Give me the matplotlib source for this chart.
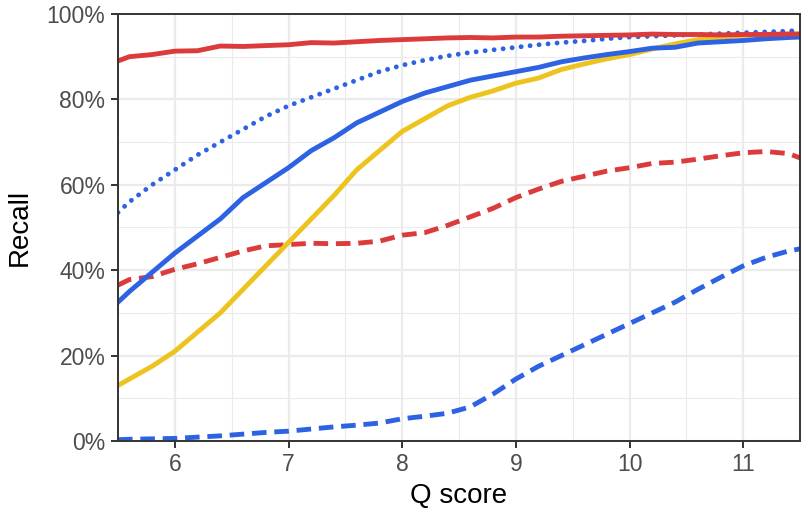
import matplotlib.pyplot as plt
from matplotlib.ticker import FixedLocator, FuncFormatter

plt.rcParams["font.family"] = ["Liberation Sans", "DejaVu Sans"]

q_score = [5.5, 5.6, 5.8, 6.0, 6.2, 6.4, 6.6, 6.8, 7.0, 7.2, 7.4, 7.6, 7.8, 8.0, 8.2,
           8.4, 8.6, 8.8, 9.0, 9.2, 9.4, 9.6, 9.8, 10.0, 10.2, 10.4, 10.6, 10.8,
           11.0, 11.2, 11.4, 11.5]

red_solid = [89.0, 90.0, 90.5, 91.3, 91.4, 92.5, 92.4, 92.6, 92.8, 93.3, 93.2, 93.5,
             93.8, 94.0, 94.2, 94.4, 94.5, 94.4, 94.6, 94.6, 94.8, 94.9, 95.0, 95.1,
             95.3, 95.2, 95.2, 95.1, 95.2, 95.2, 95.3, 95.3]
blue_dotted = [53.5, 56.0, 60.0, 63.5, 67.0, 70.0, 73.0, 76.0, 78.5, 80.5, 82.5, 84.5,
               86.5, 88.0, 89.2, 90.2, 91.0, 91.6, 92.2, 92.8, 93.3, 93.7, 94.2, 94.6,
               94.8, 95.0, 95.2, 95.4, 95.6, 95.8, 96.0, 96.2]
blue_solid = [32.5, 35.0, 39.5, 44.0, 48.0, 52.0, 57.0, 60.5, 64.0, 68.0, 71.0, 74.5,
              77.0, 79.5, 81.5, 83.0, 84.5, 85.5, 86.5, 87.5, 88.8, 89.7, 90.5, 91.2,
              92.0, 92.2, 93.2, 93.5, 93.8, 94.2, 94.5, 94.6]
yellow_solid = [13.0, 14.5, 17.5, 21.0, 25.5, 30.0, 35.5, 41.0, 46.5, 52.0, 57.5, 63.5,
                68.0, 72.5, 75.5, 78.5, 80.5, 82.0, 83.8, 85.0, 87.0, 88.3, 89.5, 90.5,
                91.8, 93.0, 94.0, 94.5, 95.0, 95.2, 95.3, 95.3]
red_dashed = [36.5, 37.8, 38.5, 40.2, 41.5, 43.0, 44.5, 45.7, 46.0, 46.3, 46.2, 46.3,
              46.8, 48.2, 48.8, 50.5, 52.5, 54.5, 57.0, 59.0, 60.8, 62.0, 63.2, 64.0,
              65.0, 65.3, 66.0, 66.8, 67.5, 67.8, 67.3, 66.3]
blue_dashed = [0.3, 0.4, 0.5, 0.6, 0.9, 1.2, 1.6, 2.0, 2.3, 2.8, 3.3, 3.7, 4.2, 5.2,
               5.8, 6.5, 8.0, 11.0, 14.5, 17.5, 20.0, 22.5, 25.0, 27.5, 30.0, 32.5,
               35.5, 38.3, 41.0, 43.0, 44.5, 45.0]

RED = "#DC3B3B"
BLUE = "#2D63E3"
YELLOW = "#EDC41F"

fig = plt.figure(figsize=(8.01, 5.13), dpi=100)
ax = fig.add_axes([0.1473, 0.1404, 0.8515, 0.8323])

lw = 3.5
dash = (0, (3.0, 1.6))
ax.plot(q_score, blue_dashed, color=BLUE, lw=lw, linestyle=dash)
ax.plot(q_score, red_dashed, color=RED, lw=lw, linestyle=dash)
ax.plot(q_score, yellow_solid, color=YELLOW, lw=lw)
ax.plot(q_score, blue_solid, color=BLUE, lw=lw)
ax.plot(q_score, blue_dotted, color=BLUE, lw=lw, linestyle=(0, (0.01, 1.85)),
        dash_capstyle="round")
ax.plot(q_score, red_solid, color=RED, lw=lw)

ax.set_xlim(5.5, 11.5)
ax.set_ylim(0, 100)
ax.xaxis.set_major_locator(FixedLocator([6, 7, 8, 9, 10, 11]))
ax.xaxis.set_minor_locator(FixedLocator([6.5, 7.5, 8.5, 9.5, 10.5, 11.5]))
ax.yaxis.set_major_locator(FixedLocator([0, 20, 40, 60, 80, 100]))
ax.yaxis.set_minor_locator(FixedLocator([10, 30, 50, 70, 90]))
ax.yaxis.set_major_formatter(FuncFormatter(lambda v, p: f"{v:.0f}%"))

ax.grid(which="major", color="#EBEBEB", lw=1.6)
ax.grid(which="minor", color="#EBEBEB", lw=0.8)
ax.set_axisbelow(True)

for s in ax.spines.values():
    s.set_color("#333333")
    s.set_linewidth(1.4)

ax.tick_params(which="major", length=5, width=1.4, color="#333333",
               labelsize=16.5, labelcolor="#4D4D4D", pad=4)
ax.tick_params(which="minor", length=0)

ax.set_xlabel("Q score", fontsize=20, color="black", labelpad=5)
ax.set_ylabel("Recall", fontsize=20, color="black", labelpad=10)

fig.savefig("out.png", dpi=100)
